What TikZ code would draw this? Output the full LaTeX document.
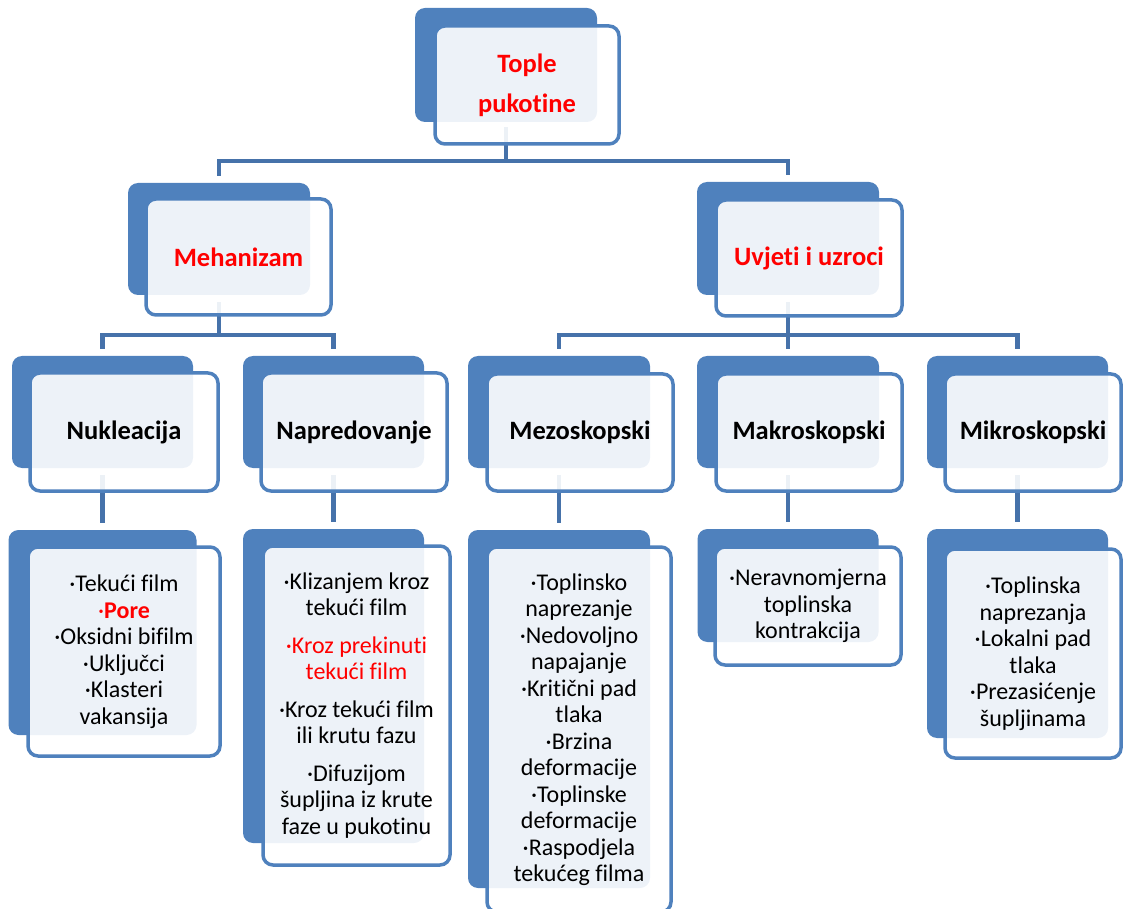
\documentclass[tikz,border=0pt]{standalone}
\usepackage{fontspec}
\setmainfont{Carlito}[Ligatures={NoCommon,NoContextual},RawFeature={-liga;-clig;-calt}]
\definecolor{bk}{HTML}{4F81BD}
\definecolor{cn}{HTML}{4672AA}
\definecolor{rd}{HTML}{FF0000}
\tikzset{
  backbox/.style={fill=bk, rounded corners=10pt, inner sep=0pt, outer sep=0pt},
  frontbox/.style={draw=bk, line width=3.5pt, fill=white, fill opacity=0.9, text opacity=1,
    rounded corners=10pt, align=center, inner sep=0pt},
  conn/.style={draw=cn, line width=4.5pt},
  hdr/.style={font=\fontsize{26.5}{40}\selectfont\bfseries},
  leaf/.style={font=\fontsize{24}{26.5}\selectfont},
}
\begin{document}
\begin{tikzpicture}[x=1pt,y=-1pt]
\useasboundingbox (0,0) rectangle (1125,909);
% back boxes
\node[backbox, minimum width=182pt, minimum height=114pt] (tpB) at (506,65) {};
\node[backbox, minimum width=182pt, minimum height=112pt] (mehB) at (219,239) {};
\node[backbox, minimum width=182pt, minimum height=113pt] (uvB) at (788,238.5) {};
\node[backbox, minimum width=181pt, minimum height=112pt] (nukB) at (102.5,412) {};
\node[backbox, minimum width=181pt, minimum height=112pt] (napB) at (333.5,412) {};
\node[backbox, minimum width=182pt, minimum height=112pt] (mezB) at (559,412) {};
\node[backbox, minimum width=182pt, minimum height=112pt] (makB) at (788,412) {};
\node[backbox, minimum width=181pt, minimum height=112pt] (mikB) at (1017.5,412) {};
\node[backbox, minimum width=188pt, minimum height=205pt] (nukLB) at (102.5,632.5) {};
\node[backbox, minimum width=181pt, minimum height=314pt] (napLB) at (333.5,686) {};
\node[backbox, minimum width=182pt, minimum height=358pt] (mezLB) at (559,709) {};
\node[backbox, minimum width=181pt, minimum height=113pt] (makLB) at (788,585.5) {};
\node[backbox, minimum width=181pt, minimum height=209pt] (mikLB) at (1017.5,633.5) {};
% connectors
\coordinate (j0) at (506,161);
\coordinate (j1) at (219,335);
\coordinate (j2) at (788,335);
\draw[conn] ([yshift=-5pt]tpB.south) -- (j0);
\draw[conn] ([yshift=7pt]mehB.north) |- (j0) -| ([yshift=7pt]uvB.north);
\draw[conn] ([yshift=-7pt]mehB.south) -- (j1);
\draw[conn] ([yshift=7pt]nukB.north) |- (j1) -| ([yshift=7pt]napB.north);
\draw[conn] ([yshift=-7pt]uvB.south) -- ([yshift=7pt]makB.north);
\draw[conn] ([yshift=7pt]mezB.north) |- (j2) -| ([yshift=7pt]mikB.north);
\draw[conn] ([yshift=-7pt]nukB.south) -- ([yshift=7pt]nukB.south |- nukLB.north);
\draw[conn] ([yshift=-7pt]napB.south) -- ([yshift=7pt]napB.south |- napLB.north);
\draw[conn] ([yshift=-7pt]mezB.south) -- ([yshift=7pt]mezB.south |- mezLB.north);
\draw[conn] ([yshift=-7pt]makB.south) -- ([yshift=7pt]makB.south |- makLB.north);
\draw[conn] ([yshift=-7pt]mikB.south) -- ([yshift=7pt]mikB.south |- mikLB.north);
% front boxes
\node[frontbox, hdr, text=rd, minimum width=184pt, minimum height=118pt] (tp) at (527,85) {Tople\\pukotine};
\node[frontbox, hdr, text=rd, minimum width=185pt, minimum height=116pt] (meh) at (238.5,257) {Mehanizam};
\node[frontbox, hdr, text=rd, minimum width=186pt, minimum height=116pt] (uv) at (809,258) {Uvjeti i uzroci};
\node[frontbox, hdr, minimum width=188pt, minimum height=118pt] (nuk) at (124,432) {Nukleacija};
\node[frontbox, hdr, minimum width=186pt, minimum height=118pt] (nap) at (354,432) {Napredovanje};
\node[frontbox, hdr, minimum width=186pt, minimum height=117pt] (mez) at (580,432.5) {Mezoskopski};
\node[frontbox, hdr, minimum width=186pt, minimum height=117pt] (mak) at (809,432.5) {Makroskopski};
\node[frontbox, hdr, minimum width=176pt, minimum height=117pt] (mik) at (1033,432.5) {Mikroskopski};
\node[frontbox, leaf, minimum width=192pt, minimum height=209pt] (nukL) at (124,651.5)
  {·Tekući film\\ \textcolor{rd}{·\textbf{Pore}}\\·Oksidni bifilm\\·Uključci\\·Klasteri\\vakansija};
\node[frontbox, leaf, minimum width=187pt, minimum height=319pt] (napL) at (356.5,705.5)
  {·Klizanjem kroz\\tekući film\\[11pt] \textcolor{rd}{·Kroz prekinuti}\\ \textcolor{rd}{tekući film}\\[11pt]·Kroz tekući film\\ili krutu fazu\\[11pt]·Difuzijom\\šupljina iz krute\\faze u pukotinu};
\node[frontbox, leaf, minimum width=184pt, minimum height=365pt] (mezL) at (579,729.5)
  {·Toplinsko\\naprezanje\\·Nedovoljno\\napajanje\\·Kritični pad\\tlaka\\·Brzina\\deformacije\\·Toplinske\\deformacije\\·Raspodjela\\tekućeg filma};
\node[frontbox, leaf, minimum width=186pt, minimum height=118pt] (makL) at (808,606)
  {·Neravnomjerna\\toplinska\\kontrakcija};
\node[frontbox, leaf, minimum width=176pt, minimum height=209pt] (mikL) at (1033,653.5)
  {·Toplinska\\naprezanja\\·Lokalni pad\\tlaka\\·Prezasićenje\\šupljinama};
\end{tikzpicture}
\end{document}
